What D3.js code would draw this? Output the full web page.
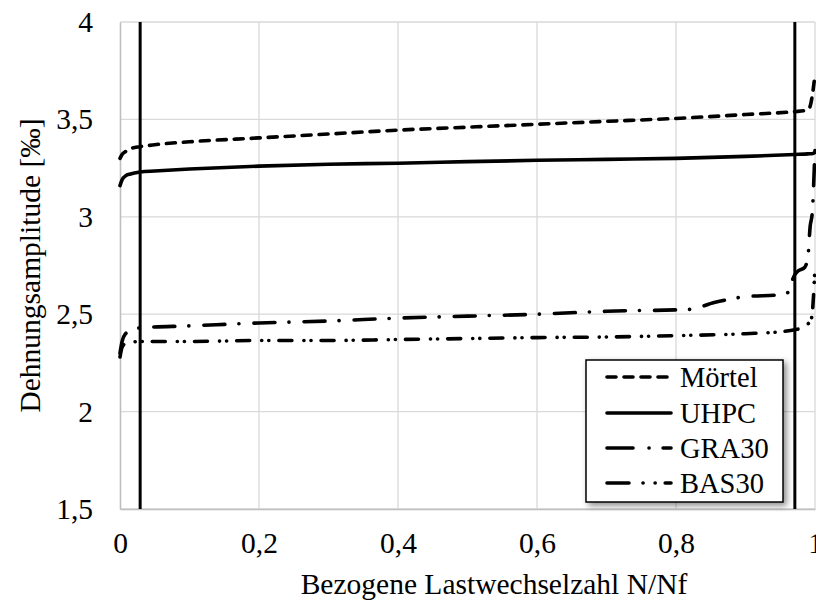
<!DOCTYPE html>
<html>
<head>
<meta charset="utf-8">
<script src="https://cdn.jsdelivr.net/npm/d3@7"></script>
<style>
  html, body { margin: 0; padding: 0; background: #fff; }
  svg { display: block; }
  text { font-family: "Liberation Serif", "Times New Roman", serif; fill: #000; }
</style>
</head>
<body>
<div id="chart"></div>
<script>
// ---- data ----
const xTicks = [0, 0.2, 0.4, 0.6, 0.8, 1];
const xTickLabels = ["0", "0,2", "0,4", "0,6", "0,8", "1"];
const yTicks = [1.5, 2, 2.5, 3, 3.5, 4];
const yTickLabels = ["1,5", "2", "2,5", "3", "3,5", "4"];
const markerLines = [0.029, 0.971];

const seriesNames = ["Mörtel", "UHPC", "GRA30", "BAS30"];

const mortelX = [0, 0.003, 0.008, 0.015, 0.029, 0.05, 0.1, 0.2, 0.3, 0.4, 0.5, 0.6, 0.7, 0.8, 0.9, 0.971, 0.985, 0.992, 0.996, 1.0];
const mortelY = [3.30, 3.32, 3.335, 3.35, 3.36, 3.37, 3.385, 3.405, 3.425, 3.445, 3.46, 3.475, 3.49, 3.505, 3.525, 3.54, 3.545, 3.56, 3.62, 3.73];

const uhpcX = [0, 0.003, 0.008, 0.015, 0.029, 0.05, 0.1, 0.2, 0.3, 0.4, 0.5, 0.6, 0.7, 0.8, 0.9, 0.971, 0.99, 0.997, 1.0];
const uhpcY = [3.16, 3.19, 3.21, 3.22, 3.23, 3.235, 3.245, 3.26, 3.27, 3.275, 3.283, 3.29, 3.295, 3.30, 3.31, 3.32, 3.323, 3.325, 3.33];

const graX = [0, 0.003, 0.008, 0.015, 0.029, 0.1, 0.2, 0.3, 0.4, 0.5, 0.6, 0.7, 0.82, 0.855, 0.9, 0.95, 0.965, 0.968, 0.975, 0.985, 0.99, 0.993, 0.996, 1.0];
const graY = [2.30, 2.36, 2.40, 2.415, 2.43, 2.44, 2.455, 2.465, 2.48, 2.49, 2.50, 2.515, 2.525, 2.56, 2.59, 2.60, 2.62, 2.68, 2.72, 2.74, 2.80, 2.95, 3.02, 3.35];

const basX = [0, 0.003, 0.008, 0.029, 0.1, 0.2, 0.3, 0.4, 0.5, 0.6, 0.7, 0.8, 0.9, 0.95, 0.971, 0.985, 0.99, 0.995, 0.998, 1.0];
const basY = [2.28, 2.33, 2.35, 2.36, 2.36, 2.365, 2.365, 2.37, 2.375, 2.38, 2.383, 2.39, 2.40, 2.41, 2.42, 2.435, 2.45, 2.48, 2.60, 2.75];

// ---- layout ----
const W = 816, H = 605;
const plot = { left: 120, right: 815, top: 22, bottom: 509 };
const FS = 29.5;

const svg = d3.select("#chart").append("svg").attr("width", W).attr("height", H);

const x = d3.scaleLinear().domain([0, 1]).range([plot.left, plot.right]);
const y = d3.scaleLinear().domain([1.5, 4]).range([plot.bottom, plot.top]);

// drop shadow filter for legend
const defs = svg.append("defs");
const f = defs.append("filter").attr("id", "shadow").attr("x", "-10%").attr("y", "-10%").attr("width", "130%").attr("height", "130%");
f.append("feDropShadow").attr("dx", 3).attr("dy", 3).attr("stdDeviation", 3).attr("flood-color", "#000").attr("flood-opacity", 0.45);

// grid
const grid = svg.append("g");
grid.selectAll("line.h").data(yTicks).join("line")
  .attr("x1", plot.left).attr("x2", plot.right)
  .attr("y1", d => y(d)).attr("y2", d => y(d))
  .attr("stroke", "#d9d9d9").attr("stroke-width", 1.3);
grid.selectAll("line.v").data(xTicks.slice(1)).join("line")
  .attr("x1", d => x(d)).attr("x2", d => x(d))
  .attr("y1", plot.top).attr("y2", plot.bottom)
  .attr("stroke", "#d9d9d9").attr("stroke-width", 1.3);

// axes
const xAxis = d3.axisBottom(x).tickValues(xTicks).tickSize(0).tickPadding(0)
  .tickFormat((d, i) => xTickLabels[i]);
const gx = svg.append("g").attr("transform", `translate(0,${plot.bottom})`).call(xAxis);
gx.select(".domain").attr("stroke", "#bfbfbf").attr("stroke-width", 1.6);
gx.selectAll("text").attr("font-size", FS).attr("font-family", "Liberation Serif").attr("dy", 0).attr("y", 44);

const yAxis = d3.axisLeft(y).tickValues(yTicks).tickSize(0).tickPadding(27)
  .tickFormat((d, i) => yTickLabels[i]);
const gy = svg.append("g").attr("transform", `translate(${plot.left},0)`).call(yAxis);
gy.select(".domain").attr("stroke", "#bfbfbf").attr("stroke-width", 1.6);
gy.selectAll("text").attr("font-size", FS).attr("font-family", "Liberation Serif");

// vertical marker lines
svg.selectAll("line.marker").data(markerLines).join("line")
  .attr("x1", d => x(d)).attr("x2", d => x(d))
  .attr("y1", plot.top).attr("y2", plot.bottom)
  .attr("stroke", "#000").attr("stroke-width", 3);

// series
const styles = [
  { dash: "9,8" },
  { dash: null },
  { dash: "21,14,0.1,15" },
  { dash: "13,12,0.1,7,0.1,10" }
];
const seriesData = [
  d3.zip(mortelX, mortelY),
  d3.zip(uhpcX, uhpcY),
  d3.zip(graX, graY),
  d3.zip(basX, basY)
];
const line = d3.line().x(d => x(d[0])).y(d => y(d[1])).curve(d3.curveMonotoneX);

seriesData.forEach((data, i) => {
  svg.append("path").datum(data)
    .attr("d", line)
    .attr("fill", "none")
    .attr("stroke", "#000")
    .attr("stroke-width", 3.6)
    .attr("stroke-linecap", "round")
    .attr("stroke-linejoin", "round")
    .attr("stroke-dasharray", styles[i].dash);
});

// legend
const lg = svg.append("g");
lg.append("rect").attr("x", 586).attr("y", 360).attr("width", 197).attr("height", 142)
  .attr("fill", "#fff").attr("stroke", "#000").attr("stroke-width", 1.5)
  .attr("filter", "url(#shadow)");
const legendY = [377, 413, 448, 483];
const legendDash = ["9,8", null, "26,16,0.1,14", "22,14,0.1,12,0.1,10"];
seriesNames.forEach((name, i) => {
  lg.append("line")
    .attr("x1", 607).attr("x2", 671)
    .attr("y1", legendY[i]).attr("y2", legendY[i])
    .attr("stroke", "#000").attr("stroke-width", 3.6)
    .attr("stroke-linecap", "round")
    .attr("stroke-dasharray", legendDash[i]);
  lg.append("text").attr("x", 680).attr("y", legendY[i]).attr("dy", "0.34em")
    .attr("font-size", 28.5).text(name);
});

// axis titles
svg.append("text")
  .attr("x", 494).attr("y", 594)
  .attr("text-anchor", "middle").attr("font-size", FS)
  .text("Bezogene Lastwechselzahl N/Nf");
svg.append("text")
  .attr("transform", `translate(40,${(plot.top + plot.bottom) / 2}) rotate(-90)`)
  .attr("text-anchor", "middle").attr("font-size", FS)
  .text("Dehnungsamplitude [‰]");
</script>
</body>
</html>
